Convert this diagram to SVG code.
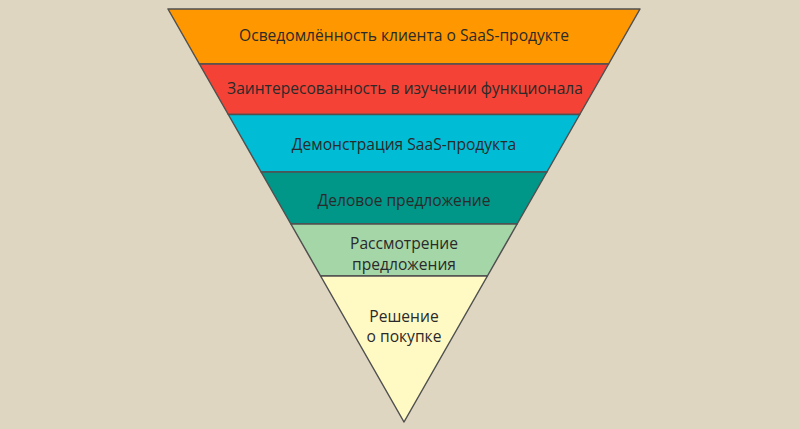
<svg xmlns="http://www.w3.org/2000/svg" width="800" height="429" viewBox="0 0 800 429">
<style>
.band{stroke:#505050;stroke-width:1.5;stroke-linejoin:round}
.t{font-family:"Open Sans","Noto Sans","DejaVu Sans",sans-serif;font-size:15.6px;fill:#2a2a2a;text-anchor:middle}
</style>
<rect width="800" height="429" fill="#DFD6C1"/>
<g id="stage1"><polygon class="band" fill="#FF9800" points="168,9 640,9 608.6,64 199.4,64"/><text class="t" x="404" y="40.5">Осведомлённость клиента о SaaS-продукте</text></g>
<g id="stage2"><polygon class="band" fill="#F44336" points="199.4,64 608.6,64 579.7,114.5 228.3,114.5"/><text class="t" x="405" y="93.5">Заинтересованность в изучении функционала</text></g>
<g id="stage3"><polygon class="band" fill="#00BCD4" points="228.3,114.5 579.7,114.5 546.9,172 261.1,172"/><text class="t" x="404" y="149.5">Демонстрация SaaS-продукта</text></g>
<g id="stage4"><polygon class="band" fill="#009688" points="261.1,172 546.9,172 517.1,224 290.9,224"/><text class="t" x="404" y="205.5">Деловое предложение</text></g>
<g id="stage5"><polygon class="band" fill="#A5D6A7" points="290.9,224 517.1,224 487.4,276 320.6,276"/><text class="t" x="404" y="248.5">Рассмотрение</text><text class="t" x="404" y="269.5">предложения</text></g>
<g id="stage6"><polygon class="band" fill="#FFF9C4" points="320.6,276 487.4,276 404,422"/><text class="t" x="404" y="322">Решение</text><text class="t" x="404" y="342">о покупке</text></g>
<g id="connectors"/>
</svg>
